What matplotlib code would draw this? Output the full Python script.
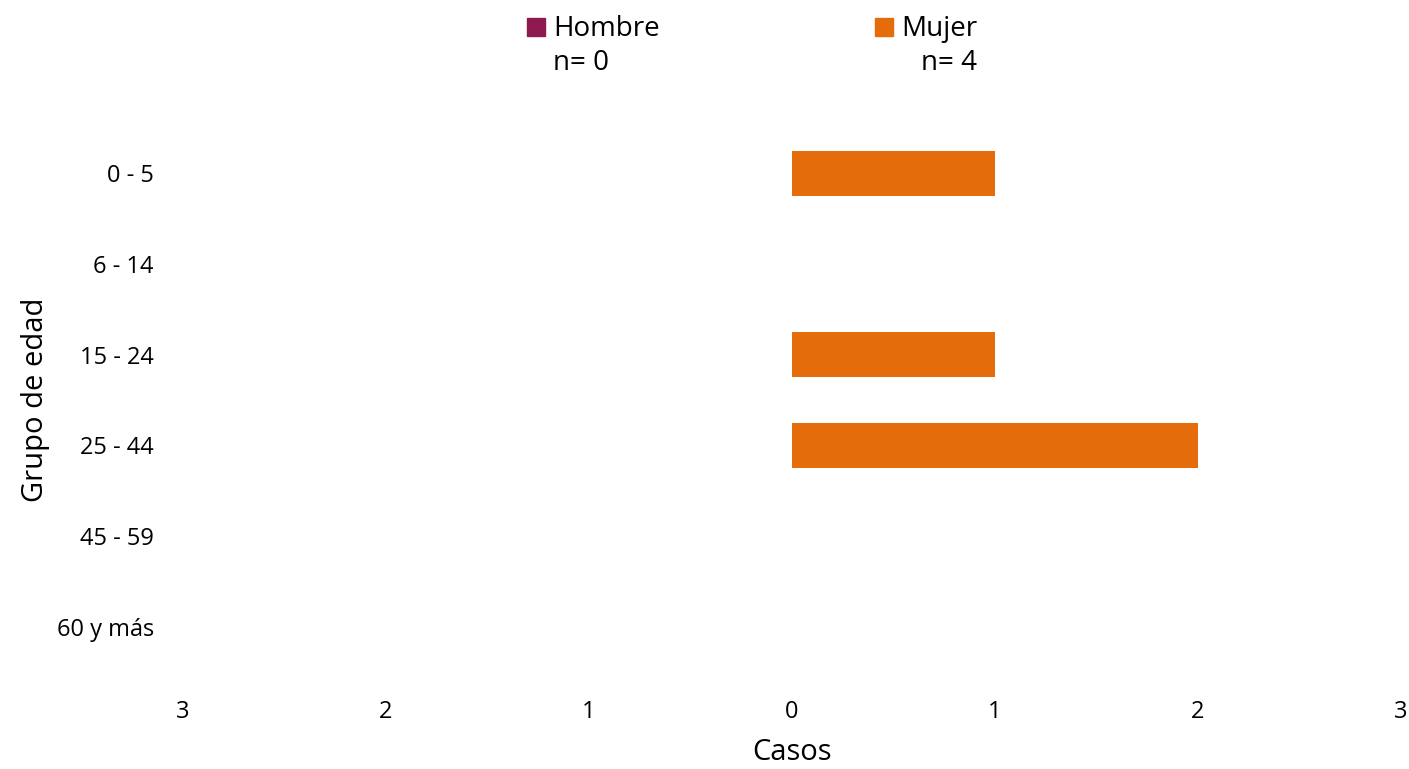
import matplotlib
matplotlib.use("Agg")
import matplotlib.pyplot as plt
from matplotlib.patches import Rectangle
import numpy as np

plt.rcParams['font.family'] = ['Open Sans', 'DejaVu Sans']

categories = ["0 - 5", "6 - 14", "15 - 24", "25 - 44", "45 - 59", "60 y más"]
hombre = [0, 0, 0, 0, 0, 0]
mujer = [1, 0, 1, 2, 0, 0]
xticks = [-3, -2, -1, 0, 1, 2, 3]
xticklabels = ["3", "2", "1", "0", "1", "2", "3"]

c_h = "#8E1A50"
c_m = "#E46C0A"

fig = plt.figure(figsize=(14.09, 7.69), dpi=100)
ax = fig.add_axes([183/1409, 1 - 672/769, (1401-183)/1409, (672-128)/769])

y = np.arange(len(categories))
ax.barh(y, [-v for v in hombre], height=0.5, color=c_h, linewidth=0)
ax.barh(y, mujer, height=0.5, color=c_m, linewidth=0)

ax.set_xlim(-3, 3)
ax.set_ylim(len(categories) - 0.5, -0.5)
ax.set_yticks(y)
ax.set_yticklabels(categories, fontsize=17)
ax.set_xticks(xticks)
ax.set_xticklabels(xticklabels, fontsize=17)
ax.tick_params(length=0)
ax.tick_params(axis='x', pad=20)
ax.tick_params(axis='y', pad=21)
for s in ax.spines.values():
    s.set_visible(False)
ax.set_xlabel("Casos", fontsize=21, labelpad=10)
ax.set_ylabel("Grupo de edad", fontsize=21, labelpad=5)

# legend
fig.patches.append(Rectangle((527/1409, 1 - 36/769), 18/1409, 18/769,
                             transform=fig.transFigure, color=c_h))
fig.patches.append(Rectangle((875/1409, 1 - 36/769), 18/1409, 18/769,
                             transform=fig.transFigure, color=c_m))
fig.text(553/1409, 1 - 46/769, f"Hombre\nn= {sum(hombre)}", fontsize=20,
         va="center", ha="left", multialignment="left", linespacing=1.28)
fig.text(901/1409, 1 - 46/769, f"Mujer\nn= {sum(mujer)}", fontsize=20,
         va="center", ha="left", multialignment="right", linespacing=1.28)

fig.savefig("out.png", dpi=100)
